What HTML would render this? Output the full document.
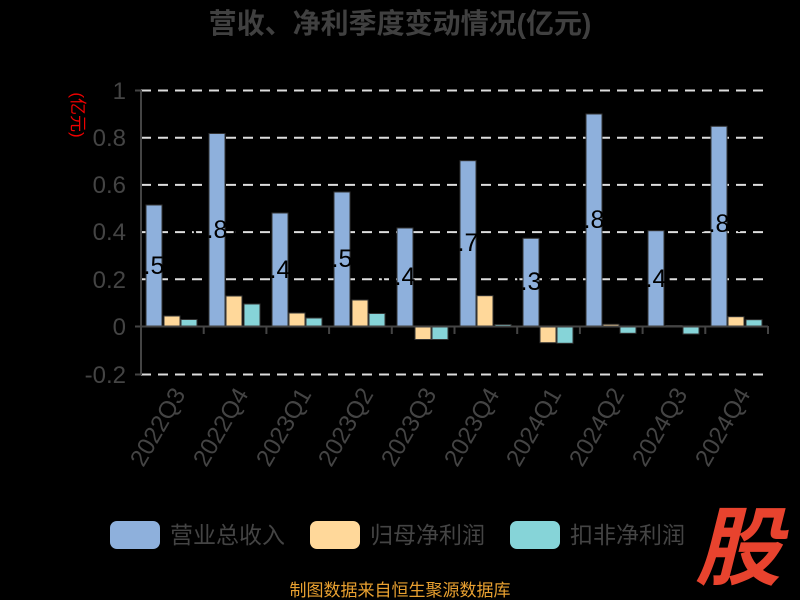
<!DOCTYPE html>
<html><head><meta charset="utf-8"><style>
body{margin:0;background:#000;}
svg{display:block;font-family:"Liberation Sans","Noto Sans CJK SC",sans-serif;}
</style></head><body>
<svg width="800" height="600" xmlns="http://www.w3.org/2000/svg">
<rect width="800" height="600" fill="#000"/>
<text x="400" y="33" text-anchor="middle" font-size="28" font-weight="bold" fill="#404040">营收、净利季度变动情况(亿元)</text>
<text transform="translate(72,115) rotate(90)" text-anchor="middle" font-size="17" fill="#e00">(亿元)</text>
<g stroke="#ddd" stroke-width="2" stroke-dasharray="10,7">
<line x1="141" x2="768" y1="90.5" y2="90.5"/>
<line x1="141" x2="768" y1="137.7" y2="137.7"/>
<line x1="141" x2="768" y1="184.9" y2="184.9"/>
<line x1="141" x2="768" y1="232.1" y2="232.1"/>
<line x1="141" x2="768" y1="279.3" y2="279.3"/>
<line x1="141" x2="768" y1="374.5" y2="374.5"/>
</g>
<g font-size="24" fill="#444" text-anchor="end">
<text x="126" y="99">1</text><text x="126" y="146">0.8</text><text x="126" y="193">0.6</text>
<text x="126" y="240">0.4</text><text x="126" y="288">0.2</text><text x="126" y="335">0</text><text x="126" y="383">-0.2</text>
</g>
<g stroke="#333" stroke-width="1">
<rect x="146" y="205" width="16" height="121.5" fill="#8eb0dc"/><rect x="164" y="316" width="16" height="10.5" fill="#ffd89a"/><rect x="181" y="319.5" width="16" height="7" fill="#86d4d8"/>
<rect x="209" y="133.5" width="16" height="193" fill="#8eb0dc"/><rect x="226" y="296" width="16" height="30.5" fill="#ffd89a"/><rect x="244" y="304" width="16" height="22.5" fill="#86d4d8"/>
<rect x="272" y="213" width="16" height="113.5" fill="#8eb0dc"/><rect x="289" y="313" width="16" height="13.5" fill="#ffd89a"/><rect x="306" y="318" width="16" height="8.5" fill="#86d4d8"/>
<rect x="334" y="192" width="16" height="134.5" fill="#8eb0dc"/><rect x="352" y="300" width="16" height="26.5" fill="#ffd89a"/><rect x="369" y="313.5" width="16" height="13" fill="#86d4d8"/>
<rect x="397" y="228" width="16" height="98.5" fill="#8eb0dc"/><rect x="415" y="326.5" width="16" height="13" fill="#ffd89a"/><rect x="432" y="326.5" width="16" height="13" fill="#86d4d8"/>
<rect x="460" y="160.7" width="16" height="165.8" fill="#8eb0dc"/><rect x="477" y="295.7" width="16" height="30.8" fill="#ffd89a"/><rect x="495" y="324.5" width="16" height="2" fill="#86d4d8"/>
<rect x="523" y="238.3" width="16" height="88.2" fill="#8eb0dc"/><rect x="540" y="326.5" width="16" height="16.2" fill="#ffd89a"/><rect x="557" y="326.5" width="16" height="16.8" fill="#86d4d8"/>
<rect x="586" y="114" width="16" height="212.5" fill="#8eb0dc"/><rect x="603" y="324.3" width="16" height="2.2" fill="#ffd89a"/><rect x="620" y="326.5" width="16" height="6.8" fill="#86d4d8"/>
<rect x="648" y="230.7" width="16" height="95.8" fill="#8eb0dc"/><rect x="666" y="325.5" width="16" height="1" fill="#ffd89a"/><rect x="683" y="326.5" width="16" height="7.5" fill="#86d4d8"/>
<rect x="711" y="126.3" width="16" height="200.2" fill="#8eb0dc"/><rect x="728" y="316.7" width="16" height="9.8" fill="#ffd89a"/><rect x="746" y="319.7" width="16" height="6.8" fill="#86d4d8"/>
</g>
<g font-size="25" fill="#000" text-anchor="middle">
<text x="154" y="274">0.51</text><text x="217" y="238">0.81</text><text x="280" y="278">0.48</text>
<text x="342" y="267">0.56</text><text x="405" y="285">0.41</text><text x="468" y="251">0.70</text>
<text x="531" y="290">0.37</text><text x="594" y="228">0.89</text><text x="656" y="287">0.40</text><text x="719" y="232">0.84</text>
</g>
<g stroke="#444" stroke-width="2">
<line x1="141" y1="90" x2="141" y2="375"/>
<line x1="135" y1="326.5" x2="768" y2="326.5"/>
<line x1="141" y1="90.5" x2="135" y2="90.5"/><line x1="141" y1="374.5" x2="135" y2="374.5"/>
<line x1="203.7" y1="326" x2="203.7" y2="334"/><line x1="266.4" y1="326" x2="266.4" y2="334"/>
<line x1="329.1" y1="326" x2="329.1" y2="334"/><line x1="391.8" y1="326" x2="391.8" y2="334"/>
<line x1="454.5" y1="326" x2="454.5" y2="334"/><line x1="517.2" y1="326" x2="517.2" y2="334"/>
<line x1="579.9" y1="326" x2="579.9" y2="334"/><line x1="642.6" y1="326" x2="642.6" y2="334"/>
<line x1="705.3" y1="326" x2="705.3" y2="334"/><line x1="768" y1="326" x2="768" y2="334"/>
</g>
<g font-size="24" fill="#444" text-anchor="end">
<text transform="translate(186,394) rotate(-60)">2022Q3</text>
<text transform="translate(249,394) rotate(-60)">2022Q4</text>
<text transform="translate(312,394) rotate(-60)">2023Q1</text>
<text transform="translate(374,394) rotate(-60)">2023Q2</text>
<text transform="translate(437,394) rotate(-60)">2023Q3</text>
<text transform="translate(500,394) rotate(-60)">2023Q4</text>
<text transform="translate(562,394) rotate(-60)">2024Q1</text>
<text transform="translate(625,394) rotate(-60)">2024Q2</text>
<text transform="translate(688,394) rotate(-60)">2024Q3</text>
<text transform="translate(751,394) rotate(-60)">2024Q4</text>
</g>
<g font-size="23" fill="#444">
<rect x="110" y="521" width="50" height="28" rx="7" fill="#8eb0dc"/><text x="170" y="543">营业总收入</text>
<rect x="310" y="521" width="50" height="28" rx="7" fill="#ffd89a"/><text x="370" y="543">归母净利润</text>
<rect x="510" y="521" width="50" height="28" rx="7" fill="#86d4d8"/><text x="570" y="543">扣非净利润</text>
</g>
<text x="738" y="578" text-anchor="middle" font-size="86" font-weight="bold" font-style="italic" fill="#e8432e">股</text>
<text x="400" y="596" text-anchor="middle" font-size="17" fill="#e8a030">制图数据来自恒生聚源数据库</text>
</svg>
</body></html>
